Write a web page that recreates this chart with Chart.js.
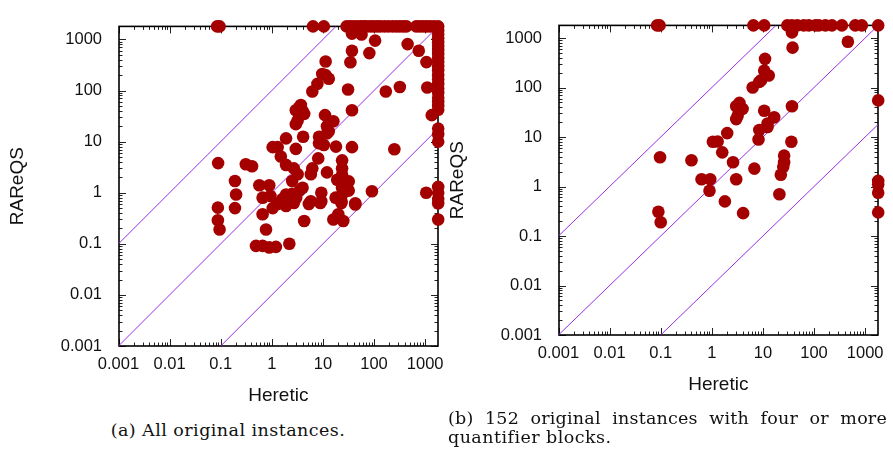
<!DOCTYPE html>
<html>
<head>
<meta charset="utf-8">
<script src="https://cdn.jsdelivr.net/npm/chart.js@4.4.0/dist/chart.umd.min.js"></script>
<style>
  body { margin: 0; background: #fff; width: 893px; height: 452px; overflow: hidden; position: relative; }
  canvas { position: absolute; }
  #chartA { left: 0; top: 0; }
  #chartB { left: 440px; top: -1px; }
  .cap { position: absolute; font-family: "DejaVu Serif", serif; font-size: 17.5px; letter-spacing: 0.45px; color: #111; white-space: nowrap; line-height: 20px; }
</style>
</head>
<body>
<canvas id="chartA" width="453" height="410"></canvas>
<canvas id="chartB" width="453" height="400"></canvas>
<div class="cap" style="left:0; width:456px; top:420px; text-align:center;">(a) All original instances.</div>
<div class="cap" style="left:448px; width:439px; top:408px; text-align:justify; text-align-last:justify; letter-spacing:0.2px;">(b) 152 original instances with four or more</div>
<div class="cap" style="left:448px; top:427px;">quantifier blocks.</div>
<script>
// run times in seconds, [Heretic, RAReQS]; 1800 = timeout
const allPoints = [
  [0.085,1800],[0.095,1800],[6.4,1800],[10.4,1800],[29,1800],[34,1800],[40,1800],[47,1800],[55,1800],[63,1800],
  [71,1800],[84,1800],[98,1800],[115,1800],[134,1800],[160,1800],[191,1800],[230,1800],[273,1800],[320,1800],
  [374,1800],[430,1800],[668,1800],[780,1800],[914,1800],[1070,1800],[1250,1800],[1500,1800],[1800,1800],
  [1800,1500],[1800,1250],[1800,1050],[1800,880],[1800,740],[1800,620],[1800,520],[1800,430],[1800,360],
  [1800,300],[1800,250],[1800,200],[1800,165],[1800,135],[1800,110],[1800,90],[1800,72],[1800,60],[1800,50],
  [1800,42],[1800,18],[1800,14],[1800,10],[1800,1.3],[1800,1.0],[1800,0.75],[1800,0.62],[1800,0.3],
  [1350,33],[1100,115],[1050,1.0],[1060,360],[750,600],[454,811],
  [37,1300],[57,1250],[105,950],[37,600],[81,540],[34.5,357],[11.3,370],[9.7,210],[11.3,200],[13,170],
  [7.8,135],[6.2,96],[31,105],[170,96],[320,117],[37,41],
  [3.7,52],[3.4,46],[2.95,41],[4.3,35],[4.0,40],[3.2,26],[2.95,22],[11,33],[16,25],[12,20],[12,14.5],[13,16],
  [8.4,12.5],[8.4,9.3],[10.4,8.6],[18,8],[37,7.8],[250,7.1],[1.9,11.6],[4.1,12.5],[2.95,7.2],[1.04,7.8],
  [1.3,7.8],[1.5,5.1],[1.9,3.5],[2.7,3.0],[3.2,2.3],[2.5,1.7],[4.0,1.25],
  [0.57,1.4],[0.89,1.4],[0.94,0.86],[0.66,0.8],[1.9,0.92],[2.5,0.95],[2.2,0.68],[5.8,0.68],[9.3,1.0],
  [9.3,0.68],[12,2.5],[6.2,3.0],[5.8,2.3],[8.1,4.7],
  [23.7,4.3],[23.7,3.0],[23.7,2.25],[23.7,1.67],[23.7,1.24],[23.7,0.92],[19,1.8],[32,1.67],[32,1.1],
  [17.7,0.8],[23,0.68],[43,0.62],[91,1.07],
  [0.089,3.8],[0.31,3.6],[0.41,3.3],[0.19,1.7],[0.2,0.92],[0.19,0.5],[0.088,0.51],[0.088,0.29],[0.095,0.19],
  [0.49,0.091],[0.66,0.091],[0.89,0.085],[1.2,0.087],[2.2,0.1],[0.77,0.19],[0.66,0.38],[1.04,0.5],
  [1.9,0.55],[2.7,0.63],[4.3,0.28],[5.3,0.6],[8.9,0.63],[16,0.3],[25,0.28],[20,0.38],[23,0.63],[43,0.59],
  [1.3,0.6],[1.6,0.75],[3.5,1.1],[3.0,0.8],[1.5,0.65],[2.0,0.7]
];

const fourBlockPoints = [
  [0.085,1800],[0.095,1800],[6.5,1800],[10.6,1800],[30,1800],[37,1800],[47,1800],[63,1800],[79,1800],
  [107,1800],[124,1800],[167,1800],[224,1800],[351,1800],[640,1800],[860,1800],[1800,1800],
  [37,1300],[38,640],[460,840],[11,380],[10.6,220],[13,175],[9.2,140],[8.5,130],[6.3,100],[37,42],[36,8],
  [3.47,49],[3.0,42],[4.0,37],[3.2,27],[3.0,23],[10.6,34],[16.6,25],[12.3,18.7],[8.5,13.9],[12.3,16],
  [8.2,8.9],[2.0,12],[1.05,8],[1.3,8.1],[1.6,4.9],[2.6,3.1],[0.4,3.4],[0.097,3.9],[0.63,1.4],[0.93,1.4],
  [0.9,0.82],[3.0,1.4],[6.8,2.3],[26,4.2],[26,3.1],[25,2.5],[22.4,1.73],[21,0.7],[1.8,0.5],[4.1,0.29],
  [0.09,0.31],[0.1,0.19],[1800,55],[1800,1.3],[1800,1.1],[1800,0.75],[1800,0.3]
];

const tickValues = [0.001, 0.01, 0.1, 1, 10, 100, 1000];
const tickLabels = ["0.001", "0.01", "0.1", "1", "10", "100", "1000"];
const axisMin = 0.001, axisMax = 1800;
// reference lines y = f * x
const diagonalFactors = [100, 1, 0.01];

const dotColor = "#a50000";
const lineColor = "#9b2ee6";

function diagonal(f) {
  const x0 = Math.max(axisMin, axisMin / f);
  const x1 = Math.min(axisMax, axisMax / f);
  return [{ x: x0, y: x0 * f }, { x: x1, y: x1 * f }];
}

// gnuplot style frame with inward ticks on all four sides
const frameTicks = {
  id: "frameTicks",
  beforeDatasetsDraw(chart) {
    const { ctx, chartArea: a, scales: { x, y } } = chart;
    const left = Math.round(a.left), right = Math.round(a.right);
    ctx.save();
    ctx.strokeStyle = "#222";
    ctx.lineWidth = 1;
    ctx.beginPath();
    for (let k = -3; k <= 3; k++) {
      for (let m = 1; m <= 9; m++) {
        const v = m * Math.pow(10, k);
        if (v > axisMax) continue;
        const len = m === 1 ? 7 : 3.5;
        const px = Math.round(x.getPixelForValue(v)) + 0.5;
        ctx.moveTo(px, a.bottom); ctx.lineTo(px, a.bottom - len);
        ctx.moveTo(px, a.top); ctx.lineTo(px, a.top + len);
        const py = Math.round(y.getPixelForValue(v)) + 0.5;
        ctx.moveTo(left, py); ctx.lineTo(left + len, py);
        ctx.moveTo(right, py); ctx.lineTo(right - len, py);
      }
    }
    ctx.stroke();
    ctx.lineWidth = 1.6;
    ctx.strokeStyle = "#000";
    ctx.strokeRect(left, a.top, right - left, a.bottom - a.top);
    ctx.restore();
  }
};

function makeChart(id, points, padTop) {
  const tickFont = { family: "Liberation Sans", size: 16.5 };
  const titleFont = { family: "Liberation Sans", size: 19 };
  const lineSets = diagonalFactors.map(f => ({
    type: "scatter",
    showLine: true,
    data: diagonal(f),
    borderColor: lineColor,
    backgroundColor: lineColor,
    borderWidth: 1,
    pointRadius: 0,
    fill: false,
    order: 1
  }));
  return new Chart(document.getElementById(id), {
    type: "scatter",
    data: {
      datasets: [
        {
          data: points.map(p => ({ x: p[0], y: p[1] })),
          backgroundColor: dotColor,
          borderColor: dotColor,
          borderWidth: 0,
          pointRadius: 6.3,
          pointHoverRadius: 6.3,
          clip: false,
          order: 0
        },
        ...lineSets
      ]
    },
    options: {
      responsive: false,
      animation: false,
      events: [],
      // half-pixel offset keeps the 45 degree lines evenly antialiased
      layout: { padding: { top: padTop, right: 12.5, left: 0, bottom: 0 } },
      plugins: { legend: { display: false }, tooltip: { enabled: false } },
      scales: {
        x: {
          type: "logarithmic",
          min: axisMin,
          max: axisMax,
          afterBuildTicks: s => { s.ticks = tickValues.map(v => ({ value: v })); },
          afterFit: s => { s.height = 64; },
          grid: { display: false, drawTicks: false },
          border: { display: false },
          ticks: { padding: 9, color: "#111", font: tickFont, autoSkip: false, maxRotation: 0,
                   callback: (v, i) => tickLabels[i] },
          title: { display: true, text: "Heretic", color: "#111", font: titleFont, padding: { top: 0, bottom: 3 } }
        },
        y: {
          type: "logarithmic",
          min: axisMin,
          max: axisMax,
          afterBuildTicks: s => { s.ticks = tickValues.map(v => ({ value: v })); },
          afterFit: s => { s.width = 118.5; },
          grid: { display: false, drawTicks: false },
          border: { display: false },
          ticks: { padding: 16.5, color: "#111", font: tickFont, autoSkip: false,
                   callback: (v, i) => tickLabels[i] },
          title: { display: true, text: "RAReQS", color: "#111", font: titleFont, padding: { top: 6, bottom: 0 } }
        }
      }
    },
    plugins: [frameTicks]
  });
}

makeChart("chartA", allPoints, 24);
makeChart("chartB", fourBlockPoints, 14);
</script>
</body>
</html>
